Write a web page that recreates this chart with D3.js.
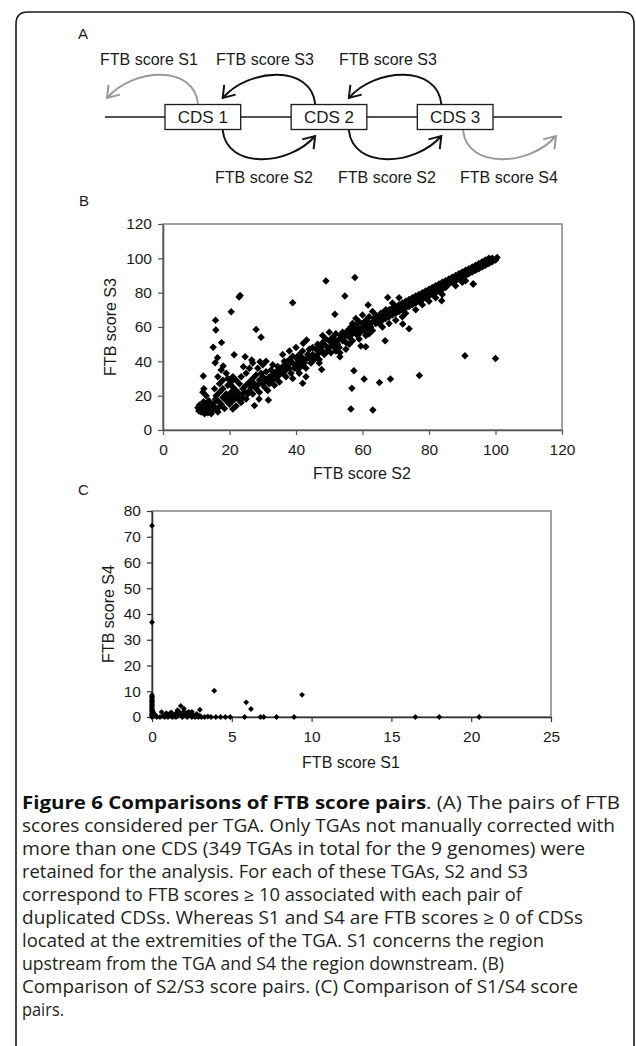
<!DOCTYPE html>
<html><head><meta charset="utf-8">
<script src="https://cdn.jsdelivr.net/npm/d3@7"></script>
<style>body{margin:0;background:#fff}svg{display:block}</style>
</head><body>
<svg id="fig" width="636" height="1046"></svg>
<script>
// ---------- DATA ----------
const cdsLabels = ["CDS 1", "CDS 2", "CDS 3"];
const topArcLabels = ["FTB score S1", "FTB score S3", "FTB score S3"];
const bottomArcLabels = ["FTB score S2", "FTB score S2", "FTB score S4"];
const panelLetters = ["A", "B", "C"];

const bTicks = [0, 20, 40, 60, 80, 100, 120];
const cXTicks = [0, 5, 10, 15, 20, 25];
const cYTicks = [0, 10, 20, 30, 40, 50, 60, 70, 80];
const bXTitle = "FTB score S2", bYTitle = "FTB score S3";
const cXTitle = "FTB score S1", cYTitle = "FTB score S4";

// Panel B: [S2, S3]
const s2s3Pairs = [
 [10.5,13],[11,12],[11.5,10.5],[12,14],[12,11],[12.5,9.5],[13,12.5],[13,15],[13.5,10],[14,13],[14,11],[14.5,9.5],[15,14],[15,11.5],[15.5,16],[11,14.5],[10.8,11],[12.8,13.5],[14.2,15.2],[16,12.5],[16.5,10.5],[17,13.5],[13.8,17],[12.2,16.5],[15.8,18],
 [16,20],[16.5,17],[17,22],[17.5,15],[18,19],[18,24],[18.5,12.5],[19,17],[19,21],[19.5,26],[20,15],[20,19],[20.5,22],[21,17],[21,25],[21.5,20],[22,14],[22,23],[22.5,18],[23,21],[23,27],[23.5,16],[24,24],[24,19],[24.5,22],[25,26],[25,18],[25.5,21],[15.5,24],[16.5,31],[17,27],[18,29],[19,33],[17.5,35],[19.5,30],[20.5,28],[21,31],[22,29],[23.5,31],[12,22],[12.3,24],[13,20],
 [26,23],[26,28],[26.5,25],[27,21],[27,30],[27.5,27],[28,24],[28,32],[28.5,26],[29,29],[29,22],[29.5,33],[30,27],[30,31],[30.5,25],[31,29],[31,34],[31.5,23],[32,31],[32,27],[32.5,35],[33,29],[33,32],[33.5,26],[34,34],[34,30],[34.5,37],[35,32],[35,28],[35.5,35],[26,36],[27,39],[28.5,36],[30,38],[25,33],[24.7,42.7],[26.7,40.8],[24.2,36.9],[29.2,39.8],[31,40],[33,38],
 [36,33],[36,37],[36.5,40],[37,35],[37,31],[37.5,38],[38,36],[38,41],[38.5,33],[39,39],[39,43],[39.5,36],[40,38],[40,42],[40.5,35],[41,40],[41,44],[41.5,37],[42,42],[42,46],[42.5,39],[43,41],[43,36],[43.5,44],[44,42],[44,47],[44.5,39],[45,44],[45,48],[45.5,41],[36,44],[38,46],[40,48],[42.2,50.5],[43.2,52.4],[41,33],[43,31],[39,30],
 [46,43],[46,47],[46.5,50],[47,45],[47,41],[47.5,48],[48,46],[48,51],[48.5,44],[49,49],[49,53],[49.5,46],[50,48],[50,52],[50.5,45],[51,50],[51,54],[51.5,48],[52,52],[52,56],[52.5,50],[53,53],[53,48],[53.5,55],[54,52],[54,57],[54.5,54],[55,56],[55,51],[55.5,58],[48,55],[50,57],[47,39],[52,46],
 [56,54],[56,58],[56.5,60],[57,56],[57,52],[57.5,59],[58,57],[58,61],[58.5,55],[59,59],[59,63],[59.5,57],[60,60],[60,62],[60.5,58],[61,61],[61,64],[61.5,59],[62,62],[62,66],[62.5,60],[63,63],[63,58],[63.5,65],[64,62],[64,67],[64.5,64],[65,66],[65,62],[65.5,68],[58,65],[60,67],[57,62],[59,53],[61,55],[62,56],[63,69],[56,50],[55,47],[59.5,49],[61,48.5],
 [66,64],[66,68],[66.5,66],[67,65],[67,70],[67.5,67],[68,66],[68,70],[68.5,68],[69,67],[69,71],[69.5,69],[70,68],[70,72],[70.5,70],[71,69],[71,73],[71.5,71],[72,70],[72,74],[72.5,72],[73,71],[73,75],[73.5,73],[74,72],[74,76],[74.5,74],[75,73],[75,77],[75.5,75],[68,62],[70,64],[72,66],[66,60],[69,74],[71,77],[73,68],
 [76,74],[76,78],[76.5,76],[77,75],[77,79],[77.5,77],[78,76],[78,80],[78.5,78],[79,77],[79,81],[79.5,79],[80,78],[80,82],[80.5,80],[81,79],[81,83],[81.5,81],[82,80],[82,84],[82.5,82],[83,81],[83,85],[83.5,83],[84,82],[84,86],[84.5,84],[85,83],[85,87],[78,73],[80,75],[82,77],[76,70],[84,79],
 [86,85],[86,88],[86.5,86],[87,86],[87,89],[87.5,87],[88,87],[88,90],[88.5,88],[89,88],[89,91],[89.5,89],[90,89],[90,92],[90.5,90],[91,90],[91,93],[91.5,91],[92,91],[92,94],[92.5,92],[93,92],[93,95],[93.5,93],[94,93],[94,96],[94.5,94],[95,94],[95,97],[95.5,95],[96,95],[96,98],[96.5,96],[97,96],[97,99],[97.5,97],[98,97],[98,100],[98.5,98],[99,98],[99,100],[99.5,99],[100,99],[100.5,100.5],[88,84],[91,87],[93.3,85],[90,86],
 [22.9,77.5],[23.2,78.4],[20.5,68.9],[15.8,64],[15.9,58.2],[15.1,48.2],[17.6,50.9],[15.7,39.2],[16.4,42.1],[18.1,37.3],[21.4,43.9],[12.1,31.4],[28,58.6],[29.5,54],[39,74.1],[49,86.8],[57.7,88.9],[54.7,78],[51.7,67.4],
 [56.5,12.3],[63.1,11.6],[56.8,24.3],[57.4,34.5],[60.5,29.7],[65.1,27.6],[68.4,29.7],[77.1,31.8],[90.8,43.3],[100,41.7],[27.5,14.2],[21,12.2],[31.7,17.5],[28.9,18],[42,27.2],[47.7,35.3],[53.2,42.7],[53.2,45],
 [61.7,72.8],[67.6,77.2],[72.1,61.7],[74,59],[66.8,52],[83.8,75.3],[93.3,85]
];

// Panel C: [S1, S4]
const s1s4Pairs = [
 [0,0],[0,0.5],[0,1],[0,1.5],[0,2],[0,2.5],[0,3],[0,3.5],[0,4],[0,4.5],[0,5],[0,5.5],[0,6],[0,6.5],[0,7],[0,7.5],[0,8],[0,8.5],[0,74.3],[0,36.8],[0.1,0.3],[0.15,1.2],[0.05,2.2],[0.2,0.8],
 [0.3,0],[0.5,0],[0.6,1.9],[0.7,0.4],[0.8,0],[0.9,0.8],[1,0],[1.1,1.2],[1.2,0.3],[1.3,0],[1.4,0.9],[1.5,1.5],[1.5,0],[1.6,0.5],[1.7,2],[1.8,4.3],[1.8,1.2],[1.9,0],[2,2.2],[2,0.6],[2.1,1],[2.2,0],[2.3,2],[2.3,0.5],[2.4,1.4],[2.5,2],[2.5,0],[2.6,0.8],[2.7,0],[2.8,1.2],[2.9,0],[3,2.8],[3,0.4],[3.1,0],[3.3,0],[3.5,0.2],[3.7,0],[3.9,10.2],[4,0],[4.3,0],[4.6,0],[4.9,0],
 [5.8,0],[5.9,5.7],[6.2,3.1],[6.8,0],[7,0],[7.8,0],[8.9,0],[9.4,8.6],[16.5,0],[18,0],[20.5,0],[1.2,1.8],[0.9,1.5],[2.2,1.6],[1.6,2.7],[2,3.2]
];

const captionTitle = "Figure 6 Comparisons of FTB score pairs";
const captionLines = [
 ". (A) The pairs of FTB",
 "scores considered per TGA. Only TGAs not manually corrected with",
 "more than one CDS (349 TGAs in total for the 9 genomes) were",
 "retained for the analysis. For each of these TGAs, S2 and S3",
 "correspond to FTB scores \u2265 10 associated with each pair of",
 "duplicated CDSs. Whereas S1 and S4 are FTB scores \u2265 0 of CDSs",
 "located at the extremities of the TGA. S1 concerns the region",
 "upstream from the TGA and S4 the region downstream. (B)",
 "Comparison of S2/S3 score pairs. (C) Comparison of S1/S4 score",
 "pairs."
];

// ---------- DRAW ----------
const svg = d3.select("#fig");
const FONT = "'Liberation Sans', Arial, sans-serif";
const INK = "#1a1a1a";

// outer frame
svg.append("path")
  .attr("d", "M16,1046 V24 Q16,12 28,12 H622 Q634,12 634,24 V1046")
  .attr("fill", "none").attr("stroke", INK).attr("stroke-width", 1.6);

// panel letters
const letterPos = [[78, 39], [79, 206], [78, 495]];
svg.selectAll("text.letter").data(panelLetters).join("text")
  .attr("class", "letter")
  .attr("x", (d, i) => letterPos[i][0]).attr("y", (d, i) => letterPos[i][1])
  .attr("font-family", FONT).attr("font-size", 15).attr("fill", INK).text(d => d);

// ---------- Panel A ----------
const A = svg.append("g");
const lineY = 117, boxH = 25;
const boxX = d3.scaleBand().domain(cdsLabels).range([165, 493]).paddingInner(0.4);
const defs = svg.append("defs");
[["arrBlack", "#111"], ["arrGray", "#999"]].forEach(([id, col]) => {
  defs.append("marker").attr("id", id).attr("markerUnits", "userSpaceOnUse")
    .attr("viewBox", "-14 -10 16 20").attr("refX", 0).attr("refY", 0)
    .attr("markerWidth", 16).attr("markerHeight", 20).attr("orient", "auto")
    .append("path").attr("d", "M-11,-7.5 L0,0 L-11,7.5")
    .attr("fill", "none").attr("stroke", col).attr("stroke-width", 2)
    .attr("stroke-linejoin", "miter");
});

A.append("line").attr("x1", 105).attr("x2", 562).attr("y1", lineY).attr("y2", lineY)
  .attr("stroke", INK).attr("stroke-width", 1.3);
const bw = boxX.bandwidth();
A.selectAll("rect.cds").data(cdsLabels).join("rect").attr("class", "cds")
  .attr("x", d => boxX(d)).attr("y", lineY - boxH / 2).attr("width", bw).attr("height", boxH)
  .attr("fill", "#fff").attr("stroke", INK).attr("stroke-width", 1.3);
A.selectAll("text.cds").data(cdsLabels).join("text").attr("class", "cds")
  .attr("x", d => boxX(d) + bw / 2).attr("y", lineY + 6)
  .attr("text-anchor", "middle").attr("font-family", FONT).attr("font-size", 17)
  .attr("fill", INK).text(d => d);

// arcs
const boxL = i => boxX(cdsLabels[i]), boxR = i => boxX(cdsLabels[i]) + bw;
function topArc(x0, x1) {
  const y0 = lineY - 13, y1 = lineY - 19;
  return `M${x0},${y0} C${x0 - 4},${y0 - 40} ${x1 + 26},${y1 - 30} ${x1},${y1}`;
}
function botArc(x0, x1) {
  const y0 = lineY + 13, y1 = lineY + 19;
  return `M${x0},${y0} C${x0 + 4},${y0 + 40} ${x1 - 26},${y1 + 30} ${x1},${y1}`;
}
const topArcs = [
  { d: topArc(boxL(0) + 33, 107), gray: true },
  { d: topArc(boxL(1) + 24, boxR(0) - 18), gray: false },
  { d: topArc(boxL(2) + 24, boxR(1) - 18), gray: false }
];
const botArcs = [
  { d: botArc(boxR(0) - 18, boxL(1) + 24), gray: false },
  { d: botArc(boxR(1) - 18, boxL(2) + 24), gray: false },
  { d: botArc(boxR(2) - 30, 556), gray: true }
];
A.selectAll("path.arc").data(topArcs.concat(botArcs)).join("path").attr("class", "arc")
  .attr("d", d => d.d).attr("fill", "none")
  .attr("stroke", d => d.gray ? "#999" : "#111").attr("stroke-width", 2)
  .attr("marker-end", d => d.gray ? "url(#arrGray)" : "url(#arrBlack)");

const topLabelX = [100, 216, 339], botLabelX = [215, 338, 460];
A.selectAll("text.tl").data(topArcLabels).join("text").attr("class", "tl")
  .attr("x", (d, i) => topLabelX[i]).attr("y", 65)
  .attr("font-family", FONT).attr("font-size", 16).attr("fill", INK).text(d => d);
A.selectAll("text.bl").data(bottomArcLabels).join("text").attr("class", "bl")
  .attr("x", (d, i) => botLabelX[i]).attr("y", 183)
  .attr("font-family", FONT).attr("font-size", 16).attr("fill", INK).text(d => d);

// ---------- scatter helper ----------
const diamond = {
  draw(ctx, size) {
    const r = Math.sqrt(size / 2);
    ctx.moveTo(0, -r); ctx.lineTo(r, 0); ctx.lineTo(0, r); ctx.lineTo(-r, 0); ctx.closePath();
  }
};
function scatter(cfg) {
  const { x, y, xTicks, yTicks, data, size, xTitle, yTitle, xTitlePos, yTitlePos } = cfg;
  const g = svg.append("g");
  const [x0, x1] = x.range(), [y0, y1] = y.range();
  g.append("rect").attr("x", x0).attr("y", y1).attr("width", x1 - x0).attr("height", y0 - y1)
    .attr("fill", "none").attr("stroke", "#8a8a8a").attr("stroke-width", 1.6);
  const ax = g.append("g").attr("transform", `translate(0,${y0})`)
    .call(d3.axisBottom(x).tickValues(xTicks).tickSize(5).tickPadding(5).tickSizeOuter(0));
  const ay = g.append("g").attr("transform", `translate(${x0},0)`)
    .call(d3.axisLeft(y).tickValues(yTicks).tickSize(5).tickPadding(6).tickSizeOuter(0));
  [ax, ay].forEach(a => {
    a.select(".domain").attr("stroke", cfg.axisColor).attr("stroke-width", 1.6);
    a.selectAll(".tick line").attr("stroke", cfg.axisColor).attr("stroke-width", 1.2);
    a.selectAll(".tick text").attr("font-family", FONT).attr("font-size", 15.5).attr("fill", INK);
  });
  ax.selectAll(".tick text").attr("dy", "0.95em");
  g.selectAll("path.pt").data(data).join("path").attr("class", "pt")
    .attr("transform", d => `translate(${x(d[0])},${y(d[1])})`)
    .attr("d", d3.symbol().type(diamond).size(size)).attr("fill", "#000");
  g.append("text").attr("x", xTitlePos[0]).attr("y", xTitlePos[1]).attr("text-anchor", "middle")
    .attr("font-family", FONT).attr("font-size", 16).attr("fill", INK).text(xTitle);
  g.append("text").attr("transform", `translate(${yTitlePos[0]},${yTitlePos[1]}) rotate(-90)`)
    .attr("text-anchor", "middle")
    .attr("font-family", FONT).attr("font-size", 16).attr("fill", INK).text(yTitle);
}

// Panel B
const xB = d3.scaleLinear().domain([0, 120]).range([163, 562]);
const yB = d3.scaleLinear().domain([0, 120]).range([430, 224]);
scatter({ x: xB, y: yB, xTicks: bTicks, yTicks: bTicks, data: s2s3Pairs, size: 28,
  xTitle: bXTitle, yTitle: bYTitle, xTitlePos: [362, 479], yTitlePos: [116, 327], axisColor: "#555" });

// Panel C
const xC = d3.scaleLinear().domain([0, 25]).range([152, 551]);
const yC = d3.scaleLinear().domain([0, 80]).range([717, 511]);
scatter({ x: xC, y: yC, xTicks: cXTicks, yTicks: cYTicks, data: s1s4Pairs, size: 17,
  xTitle: cXTitle, yTitle: cYTitle, xTitlePos: [351, 768], yTitlePos: [114, 614], axisColor: "#333" });

// ---------- Caption ----------
const capWidths = [598, 593, 563, 506, 500, 561, 522, 482, 556, 42];
const cap = svg.append("g").attr("font-family", "'Open Sans', 'Noto Sans', sans-serif")
  .attr("font-size", 17.5).attr("fill", "#231f20");
const first = cap.append("text").attr("x", 22).attr("y", 809)
  .attr("textLength", capWidths[0]).attr("lengthAdjust", "spacingAndGlyphs");
first.append("tspan").attr("font-weight", "bold").attr("fill", "#111").text(captionTitle);
first.append("tspan").text(captionLines[0]);
cap.selectAll("text.cl").data(captionLines.slice(1)).join("text").attr("class", "cl")
  .attr("x", 22).attr("y", (d, i) => 809 + 23 * (i + 1))
  .attr("textLength", (d, i) => capWidths[i + 1]).attr("lengthAdjust", "spacingAndGlyphs")
  .text(d => d);
</script>
</body></html>
